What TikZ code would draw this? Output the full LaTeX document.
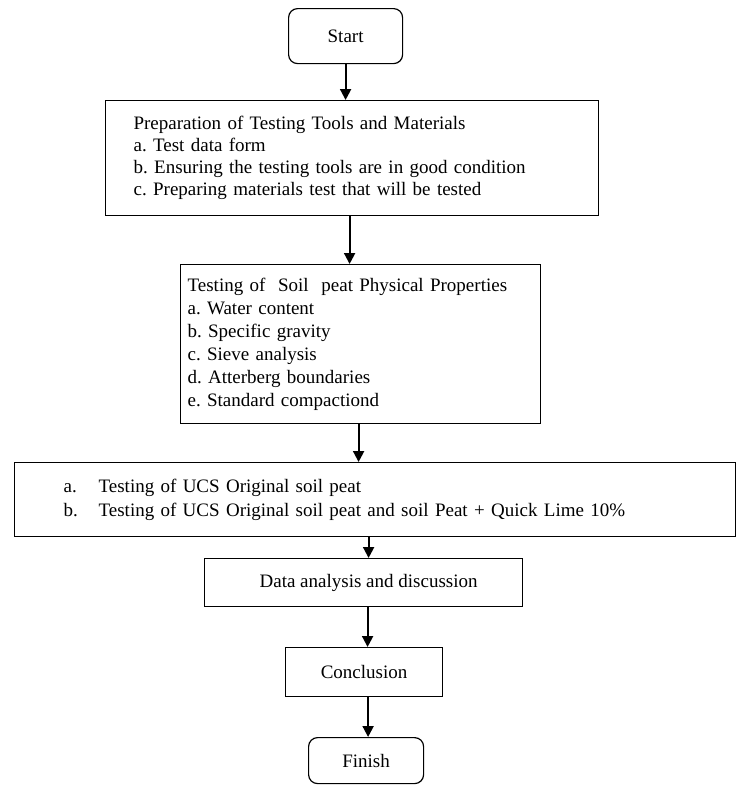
\documentclass[tikz,border=0pt]{standalone}
\usepackage{fontspec}
\setmainfont{Liberation Serif}
\usetikzlibrary{arrows.meta}
\frenchspacing

\tikzset{
    box/.style={draw, line width=1.2pt, rectangle, inner sep=0pt, anchor=north west,
        font=\fontsize{19}{22}\selectfont},
    term/.style={box, rounded corners=9pt},
    arr/.style={line width=2pt, -{Triangle[width=11pt,length=11pt]}}
}

\begin{document}
\begin{tikzpicture}[x=1pt, y=-1pt]
        \useasboundingbox (0,0) rectangle (737,785);

        % 开始
        \node[term, minimum width=114pt, minimum height=55pt] (start) at (288,8) {Start};

        % 准备
        \node[box, minimum width=493pt, minimum height=115pt, text width=437pt,
            inner xsep=28pt, align=left] (prep) at (105,100)
            {Preparation of Testing Tools and Materials\\
             a. Test data form\\
             b. Ensuring the testing tools are in good condition\\
             c. Preparing materials test that will be tested};

        % 物理性质
        \node[box, minimum width=360pt, minimum height=159pt, text width=346pt,
            inner xsep=7pt, align=left, font=\fontsize{19}{23}\selectfont] (phys) at (180,264)
            {Testing of \ Soil \ peat Physical Properties\\
             a. Water content\\
             b. Specific gravity\\
             c. Sieve analysis\\
             d. Atterberg boundaries\\
             e. Standard compactiond};

        % UCS
        \node[box, minimum width=721pt, minimum height=74pt, text width=623pt,
            inner xsep=49pt, align=left, font=\fontsize{19}{24}\selectfont] (ucs) at (14,462)
            {\makebox[35pt][l]{a.}Testing of UCS Original soil peat\\
             \makebox[35pt][l]{b.}Testing of UCS Original soil peat and soil Peat + Quick Lime 10\%};

        % 分析, 结论, 结束
        \node[box, minimum width=318pt, minimum height=48pt] (data) at (204,558)
            {\hspace*{10pt}Data analysis and discussion};
        \node[box, minimum width=157pt, minimum height=49pt] (concl) at (285,647) {Conclusion};
        \node[term, minimum width=115pt, minimum height=46pt] (finish) at (308,737) {Finish};

        % 箭头
        \draw[arr] (start.south) -- (start.south |- prep.north);
        \draw[arr] ([xshift=-2.5pt]prep.south) -- ([xshift=-2.5pt]prep.south |- phys.north);
        \draw[arr] ([xshift=-2pt]phys.south) -- ([xshift=-2pt]phys.south |- ucs.north);
        \draw[arr] ([xshift=5pt]data.north |- ucs.south) -- ([xshift=5pt]data.north);
        \draw[arr] ([xshift=4pt]data.south) -- ([xshift=4pt]data.south |- concl.north);
        \draw[arr] ([xshift=2pt]finish.north |- concl.south) -- ([xshift=2pt]finish.north);
\end{tikzpicture}
\end{document}
